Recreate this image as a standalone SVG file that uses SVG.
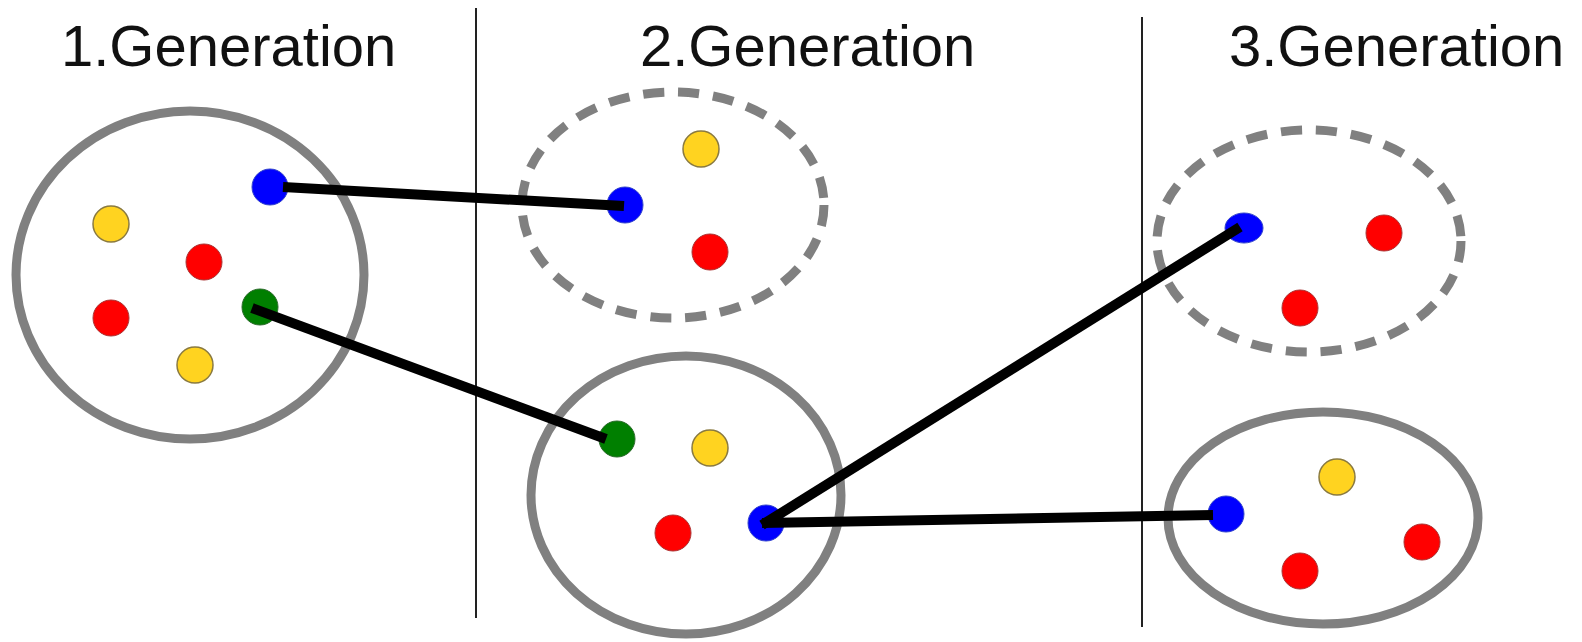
<svg xmlns="http://www.w3.org/2000/svg" width="1582" height="642" viewBox="0 0 1582 642">
<style>
.title{font-family:"Liberation Sans",Arial,sans-serif;font-size:58px;fill:#111}
.grp{fill:none;stroke:#808080;stroke-width:9}
.dash{stroke-dasharray:21 14}
.sep{stroke:#222;stroke-width:2}
.conn{stroke:#000;stroke-width:10;stroke-linecap:butt;fill:none}
.b{fill:#0000ff;stroke:#3344cc;stroke-width:1}
.r{fill:#ff0000;stroke:#aa3333;stroke-width:1}
.y{fill:#ffd320;stroke:#8a7a40;stroke-width:1.5}
.g{fill:#007f00;stroke:#2a6a2a;stroke-width:1}
</style>
<rect width="1582" height="642" fill="#fff"/>
<g id="labels">
<text class="title" x="61" y="66">1.Generation</text>
<text class="title" x="640" y="66">2.Generation</text>
<text class="title" x="1229" y="66">3.Generation</text>
</g>
<g id="separators">
<line class="sep" x1="476" y1="8" x2="476" y2="618"/>
<line class="sep" x1="1142" y1="17" x2="1142" y2="627"/>
</g>
<g id="gen1">
<ellipse class="grp" cx="190" cy="275" rx="174" ry="164"/>
<circle class="y" cx="111" cy="224" r="18"/>
<circle class="r" cx="204" cy="262" r="18"/>
<circle class="r" cx="111" cy="318" r="18"/>
<circle class="y" cx="195" cy="365" r="18"/>
</g>
<g id="gen2-dashed">
<ellipse class="grp dash" cx="673" cy="205" rx="151" ry="113"/>
<circle class="y" cx="701" cy="149" r="18"/>
<circle class="r" cx="710" cy="252" r="18"/>
</g>
<g id="gen2-solid">
<ellipse class="grp" cx="686" cy="495" rx="155" ry="139"/>
<circle class="y" cx="710" cy="448" r="18"/>
<circle class="r" cx="673" cy="533" r="18"/>
</g>
<g id="gen3-dashed">
<ellipse class="grp dash" cx="1309" cy="241" rx="152" ry="111"/>
<circle class="r" cx="1384" cy="233" r="18"/>
<circle class="r" cx="1300" cy="308" r="18"/>
</g>
<g id="gen3-solid">
<ellipse class="grp" cx="1323" cy="518" rx="155" ry="106"/>
<circle class="y" cx="1337" cy="477" r="18"/>
<circle class="r" cx="1300" cy="571" r="18"/>
<circle class="r" cx="1422" cy="542" r="18"/>
</g>
<g id="carriers">
<circle class="b" cx="270" cy="187" r="18"/>
<circle class="g" cx="260" cy="307" r="18"/>
<circle class="b" cx="625" cy="205" r="18"/>
<circle class="g" cx="617" cy="439" r="18"/>
<circle class="b" cx="766" cy="523" r="18"/>
<ellipse class="b" cx="1244" cy="228" rx="19" ry="15"/>
<circle class="b" cx="1226" cy="514" r="18"/>
</g>
<g id="connectors">
<line class="conn" x1="283" y1="187" x2="624" y2="206"/>
<line class="conn" x1="252" y1="308" x2="606" y2="439"/>
<line class="conn" x1="762" y1="525" x2="1240" y2="227"/>
<line class="conn" x1="762" y1="523" x2="1213" y2="515"/>
</g>
</svg>
